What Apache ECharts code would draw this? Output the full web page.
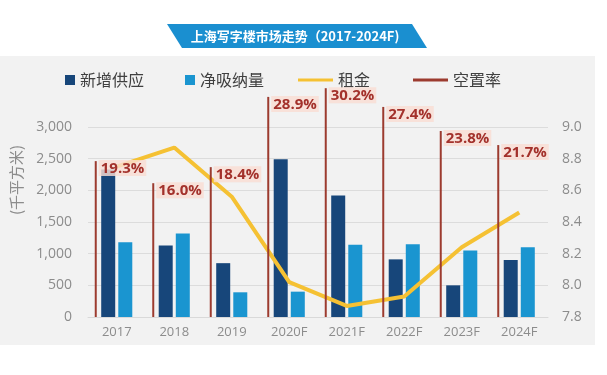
<!DOCTYPE html>
<html>
<head>
<meta charset="utf-8">
<script src="https://cdn.jsdelivr.net/npm/echarts@6/dist/echarts.min.js"></script>
<style>
  html, body { margin: 0; padding: 0; background: #fff; }
  #chart { width: 607px; height: 375px; }
</style>
</head>
<body>
<div id="chart"></div>
<script>
const years = ['2017', '2018', '2019', '2020F', '2021F', '2022F', '2023F', '2024F']
const newSupply = [2330, 1130, 850, 2490, 1920, 910, 500, 900]
const netAbsorption = [1180, 1320, 390, 400, 1140, 1150, 1050, 1100]
const rent = [8.75, 8.87, 8.56, 8.02, 7.87, 7.93, 8.24, 8.46]
const vacancy = [19.3, 16.0, 18.4, 28.9, 30.2, 27.4, 23.8, 21.7]

const cjk = '"Noto Sans CJK SC", sans-serif'
const num = '"Open Sans", "Noto Sans CJK SC", sans-serif'
const VAC_MIN = -4

const chart = echarts.init(document.getElementById('chart'))

const option = {
  backgroundColor: '#ffffff',
  animation: false,
  graphic: [
    { type: 'rect', z: -10, shape: { x: 0, y: 56, width: 595, height: 289 }, style: { fill: '#f2f2f2' } },
    { type: 'polygon', shape: { points: [[167, 24], [412, 24], [427, 48], [182, 48]] }, style: { fill: '#1a8fd0' } },
    {
      type: 'text', x: 295, y: 36,
      style: { text: '上海写字楼市场走势（2017-2024F)', fill: '#fff', font: 'bold 13px ' + cjk, align: 'center', verticalAlign: 'middle' }
    },
    {
      type: 'text', x: 16, y: 180, rotation: Math.PI / 2,
      style: { text: '(千平方米)', fill: '#8c8c8c', font: '15px ' + cjk, align: 'center', verticalAlign: 'middle' }
    }
  ],
  legend: [
    {
      left: 65, top: 72, padding: 0, itemWidth: 10, itemHeight: 10, itemGap: 41,
      textStyle: { color: '#404040', fontSize: 16, fontFamily: cjk },
      data: [{ name: '新增供应', icon: 'rect' }, { name: '净吸纳量', icon: 'rect' }]
    },
    {
      left: 298, top: 72, padding: 0, itemWidth: 35, itemHeight: 3, itemGap: 43,
      textStyle: { color: '#404040', fontSize: 16, fontFamily: cjk },
      data: [
        { name: '租金', icon: 'rect', itemStyle: { color: '#f5c133' } },
        { name: '空置率', icon: 'rect', itemStyle: { color: '#9c3b2f' } }
      ]
    }
  ],
  grid: { left: 88, right: 59, top: 127, bottom: 58 },
  xAxis: {
    type: 'category',
    data: years,
    axisLine: { lineStyle: { color: '#d9d9d9' } },
    axisTick: { show: false },
    axisLabel: { color: '#8c8c8c', fontSize: 13, fontFamily: num, margin: 9 }
  },
  yAxis: [
    {
      type: 'value', min: 0, max: 3000, interval: 500,
      axisLine: { show: false }, axisTick: { show: false },
      axisLabel: {
        color: '#8c8c8c', fontSize: 14, fontFamily: num, margin: 16,
        formatter: v => v.toLocaleString('en-US')
      },
      splitLine: { lineStyle: { color: '#dcdcdc' } }
    },
    {
      type: 'value', min: 7.8, max: 9.0, interval: 0.2,
      axisLine: { show: false }, axisTick: { show: false },
      axisLabel: { color: '#8c8c8c', fontSize: 14, fontFamily: num, margin: 14, formatter: v => v.toFixed(1) },
      splitLine: { show: false }
    },
    { type: 'value', show: false, min: VAC_MIN, max: 24.4, splitLine: { show: false } }
  ],
  series: [
    {
      name: '新增供应', type: 'bar', yAxisIndex: 0, barWidth: 14, barGap: '22%',
      itemStyle: { color: '#17467a' }, data: newSupply
    },
    {
      name: '净吸纳量', type: 'bar', yAxisIndex: 0, barWidth: 14, barGap: '22%',
      itemStyle: { color: '#1a95d0' }, data: netAbsorption
    },
    {
      name: '租金', type: 'line', yAxisIndex: 1, symbol: 'none', z: 4,
      lineStyle: { color: '#f5c133', width: 4 }, itemStyle: { color: '#f5c133' }, data: rent
    },
    {
      name: '空置率', type: 'custom', yAxisIndex: 2, z: 6,
      itemStyle: { color: '#9c3b2f' },
      data: vacancy.map((v, i) => [i, v]),
      renderItem: (params, api) => {
        const top = api.coord([api.value(0), api.value(1)])
        const base = api.coord([api.value(0), VAC_MIN])
        const x = top[0] - 21
        return {
          type: 'group',
          children: [
            {
              type: 'line',
              shape: { x1: x, y1: base[1], x2: x, y2: top[1] },
              style: { stroke: '#9c3b2f', lineWidth: 2 }
            },
            {
              type: 'text', x: x + 3, y: top[1] - 1,
              style: {
                text: api.value(1).toFixed(1) + '%',
                fill: '#a3312b', font: 'bold 15px ' + num,
                backgroundColor: 'rgba(249,221,211,0.82)', padding: [1, 2, 0, 2]
              }
            }
          ]
        }
      }
    }
  ]
}

chart.setOption(option)
</script>
</body>
</html>
